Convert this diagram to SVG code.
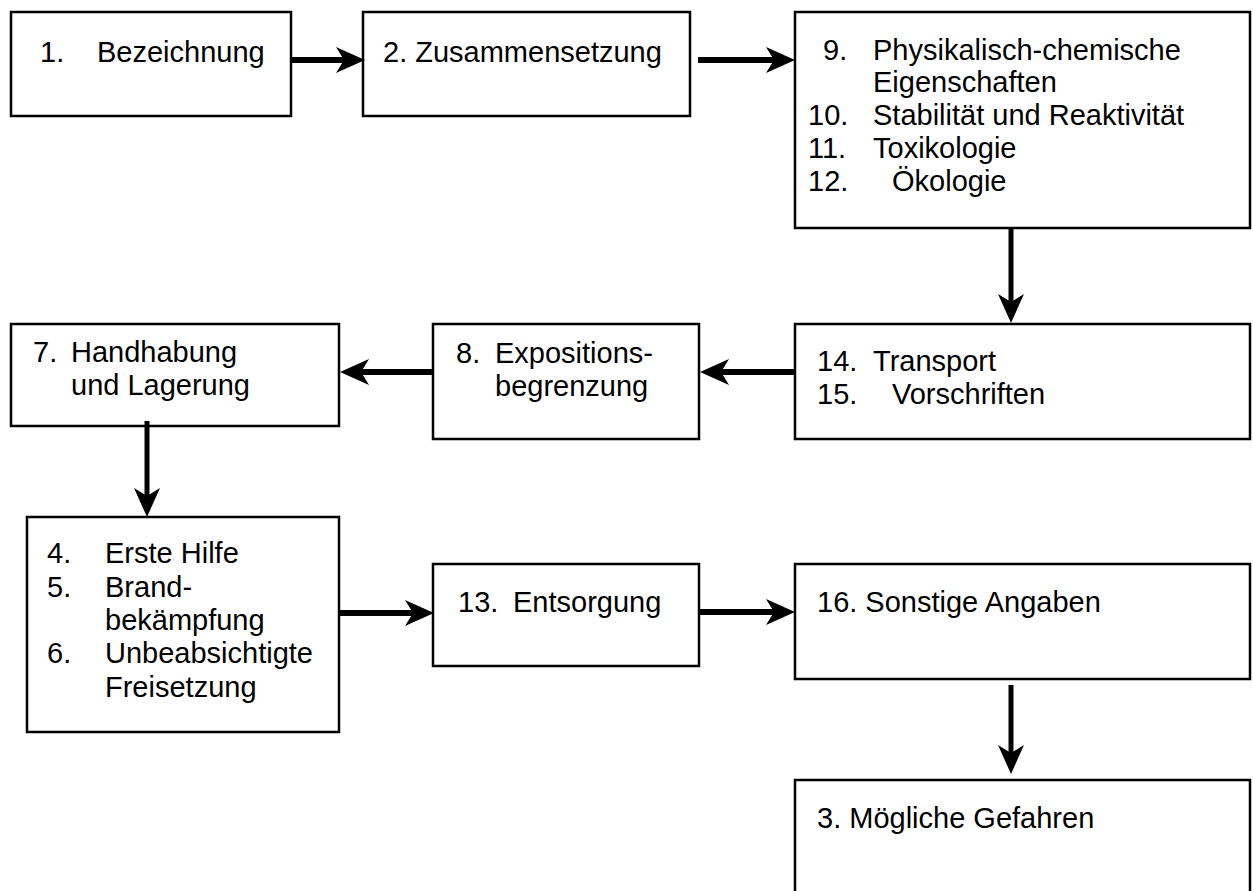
<svg xmlns="http://www.w3.org/2000/svg" width="1253" height="891" viewBox="0 0 1253 891">
<style>
.box{fill:#fff;stroke:#000;stroke-width:2.5}
.t{font-family:"Liberation Sans",Arial,sans-serif;font-size:29px;fill:#000}
.h{stroke:#000;stroke-width:6;fill:none}
.v{stroke:#000;stroke-width:5;fill:none}
</style>
<defs>
<marker id="ah" markerUnits="userSpaceOnUse" markerWidth="34" markerHeight="34" viewBox="-31 -17 34 34" refX="-20" refY="0" orient="auto">
<path d="M0,0 L-29,-13 L-21,0 L-29,13 Z" fill="#000"/>
</marker>
</defs>
<rect width="1253" height="891" fill="#fff"/>
<g id="n1"><rect class="box" x="11" y="12" width="280" height="104"/><text class="t" y="62"><tspan x="40">1.</tspan><tspan x="97">Bezeichnung</tspan></text></g>
<g id="n2"><rect class="box" x="363" y="12" width="327" height="104"/><text class="t" x="383" y="62">2. Zusammensetzung</text></g>
<g id="n9"><rect class="box" x="795" y="12" width="455" height="216"/>
<text class="t"><tspan x="823" y="60">9.</tspan><tspan x="873" y="60">Physikalisch-chemische</tspan><tspan x="873" y="92">Eigenschaften</tspan><tspan x="808" y="125">10.</tspan><tspan x="873" y="125">Stabilität und Reaktivität</tspan><tspan x="808" y="158">11.</tspan><tspan x="873" y="158">Toxikologie</tspan><tspan x="808" y="191">12.</tspan><tspan x="892" y="191">Ökologie</tspan></text></g>
<g id="n14"><rect class="box" x="795" y="324" width="455" height="115"/>
<text class="t"><tspan x="817" y="371">14.</tspan><tspan x="873" y="371">Transport</tspan><tspan x="817" y="404">15.</tspan><tspan x="892" y="404">Vorschriften</tspan></text></g>
<g id="n8"><rect class="box" x="433" y="324" width="266" height="115"/>
<text class="t"><tspan x="456" y="363">8.</tspan><tspan x="495" y="363">Expositions-</tspan><tspan x="495" y="396">begrenzung</tspan></text></g>
<g id="n7"><rect class="box" x="11" y="324" width="328" height="102"/>
<text class="t"><tspan x="33" y="362">7.</tspan><tspan x="71" y="362">Handhabung</tspan><tspan x="71" y="395">und Lagerung</tspan></text></g>
<g id="n4"><rect class="box" x="27" y="517" width="312" height="215"/>
<text class="t"><tspan x="47" y="563">4.</tspan><tspan x="105" y="563">Erste Hilfe</tspan><tspan x="47" y="597">5.</tspan><tspan x="105" y="597">Brand-</tspan><tspan x="105" y="630">bekämpfung</tspan><tspan x="47" y="663">6.</tspan><tspan x="105" y="663">Unbeabsichtigte</tspan><tspan x="105" y="697">Freisetzung</tspan></text></g>
<g id="n13"><rect class="box" x="433" y="564" width="266" height="102"/>
<text class="t" y="612"><tspan x="458">13.</tspan><tspan x="513">Entsorgung</tspan></text></g>
<g id="n16"><rect class="box" x="795" y="564" width="455" height="115"/><text class="t" x="817" y="612">16. Sonstige Angaben</text></g>
<g id="n3"><rect class="box" x="795" y="780" width="455" height="130"/><text class="t" x="817" y="828">3. Mögliche Gefahren</text></g>
<g id="connectors">
<line class="h" x1="291" y1="60" x2="345" y2="60" marker-end="url(#ah)"/>
<line class="h" x1="698" y1="60" x2="775" y2="60" marker-end="url(#ah)"/>
<line class="v" x1="1011" y1="228" x2="1011" y2="303" marker-end="url(#ah)"/>
<line class="h" x1="795" y1="372" x2="720" y2="372" marker-end="url(#ah)"/>
<line class="h" x1="433" y1="372" x2="360" y2="372" marker-end="url(#ah)"/>
<line class="v" x1="147" y1="421" x2="147" y2="497" marker-end="url(#ah)"/>
<line class="h" x1="339" y1="613" x2="414" y2="613" marker-end="url(#ah)"/>
<line class="h" x1="699" y1="612" x2="775" y2="612" marker-end="url(#ah)"/>
<line class="v" x1="1011" y1="685" x2="1011" y2="754" marker-end="url(#ah)"/>
</g>
</svg>
